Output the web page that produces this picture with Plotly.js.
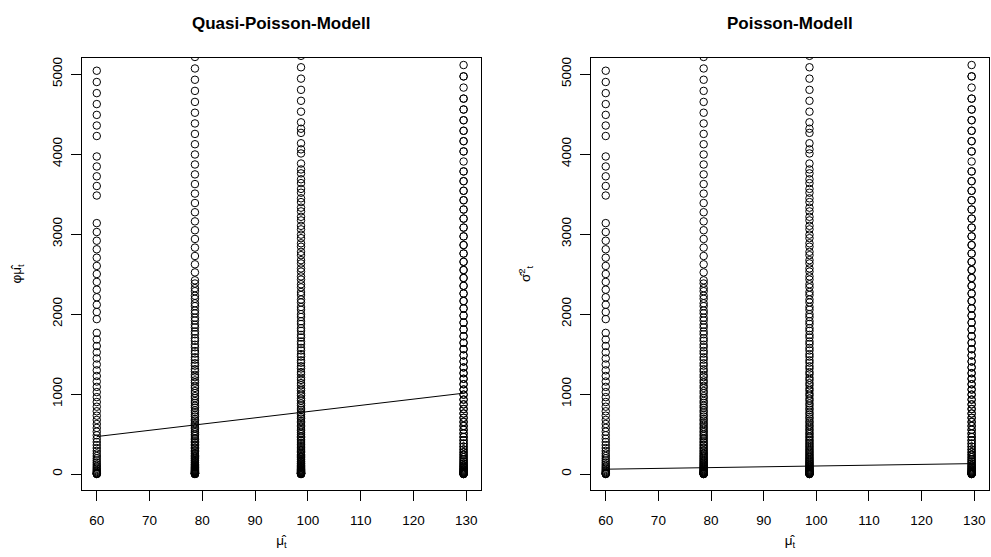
<!DOCTYPE html>
<html>
<head>
<meta charset="utf-8">
<script src="https://cdn.plot.ly/plotly-3.0.1.min.js"></script>
<style>html,body{margin:0;padding:0;background:#fff;}#chart{width:991px;height:557px;}</style>
</head>
<body>
<div id="chart"></div>
<script>
// fitted means (x positions of the four columns)
const muHat = [60, 78.6, 98.7, 129.5];
// squared deviations, one array per column
const dev60 = [0,1,4,9,16,25,36,49,64,81,100,121,144,169,196,225,256,289,324,361,400,441,484,529,576,625,676,729,784,841,900,961,1024,1089,1156,1225,1296,1369,1444,1521,1600,1681,1764,
  1936,2025,2116,2209,2304,2401,2500,2601,2704,2809,2916,3025,3136,
  3481,3600,3721,3844,3969,
  4225,4356,4489,4624,4761,4900,5041];
const dev79Up = [0,1,5,10,18,27,38,52,67,85,104,125,149,174,202,231,262,296,331,369,408,449,493,538,586,635,686,740,795,853,912,973,1037,1102,1170,1239,1310,1384,1459,1537,1616,1697,1781,1866,1954,2043,2134,2228,2323,2421,2520,2621,2725,2830,2938,3047,3158,3272,3387,3505,3624,3745,3869,3994,4122,4251,4382,4516,4651,4789,4928,5069,5213];
const dev79Low = [1,3,8,14,23,34,46,61,77,96,117,139,164,190,219,250,282,317,353,392,433,475,520,566,615,666,718,773,829,888,949,1011,1076,1142,1211,1282,1354,1429,1505,1584,1665,1747,1832,1918,2007,2098,2190,2285,2381];
const dev99Up = [0,2,5,11,18,28,40,53,69,86,106,128,151,177,204,234,266,299,335,372,412,454,497,543,590,640,692,745,801,858,918,980,1043,1109,1176,1246,1318,1391,1467,1544,1624,1706,1789,1875,1962,2052,2144,2237,2333,2430,2530,2632,2735,2841,2948,3058,3170,3283,3399,3516,3636,3758,3881,4007,4134,4264,4396,4529,4665,4802,4942,5084,5227];
const dev99Low = [0,3,7,14,22,32,45,59,76,94,114,137,161,188,216,246,279,313,350,388,428,471,515,562,610,660,713,767,824,882,942,1005,1069,1136,1204,1274,1347,1421,1498,1576,1656,1739,1823,1910,1998,2088,2181,2275,2372,2470,2570,2673,2777,2884,2992,3102,3215,3329,3446,3564,3684,3807,4058,4316];
const dev130Up = [0.25,2.25,6.25,12.25,20.25,30.25,42.25,56.25,72.25,90.25,110.25,132.25,156.25,182.25,210.25,240.25,272.25,306.25,342.25,380.25,420.25,462.25,506.25,552.25,600.25,650.25,702.25,756.25,812.25,870.25,930.25,992.25,1056.25,1122.25,1190.25,1260.25,1332.25,1406.25,1482.25,1560.25,1640.25,1722.25,1806.25,1892.25,1980.25,2070.25,2162.25,2256.25,2352.25,2450.25,2550.25,2652.25,2756.25,2862.25,2970.25,3080.25,3192.25,3306.25,3422.25,3540.25,3660.25,3782.25,3906.25,4032.25,4160.25,4290.25,4422.25,4556.25,4692.25,4830.25,4970.25,5112.25];
const dev130Low = [0,2,6,12,20,30,42,56,72,90,110,132,156,182,210,240,272,306,342,380,420,462,506,552,600,650,702,756,812,870,930,992,1056,1122,1190,1260,1332,1406,1482,1560,1640,1722,1806,1892,1980,2070,2162,2256,2352,2450,2550,2652,2756,2862,2970,3080,3192,3306,3422,3540,3660,3782,4032,4160,4290,4422,4556,4692,4970];
// model variance lines
const quasiLine = [468, 613, 770, 1010];
const poissonLine = [60, 78.6, 98.7, 129.5];
// tick labels
const xTicks = [60, 70, 80, 90, 100, 110, 120, 130];
const yTicks = [0, 1000, 2000, 3000, 4000, 5000];
const titles = ['Quasi-Poisson-Modell', 'Poisson-Modell'];

const columns = [[dev60], [dev79Up, dev79Low], [dev99Up, dev99Low], [dev130Up, dev130Low]];
const FONT = 'Liberation Sans, Arial, Helvetica, sans-serif';

function pointTraces(xa, ya) {
  const xs = [], ys = [];
  columns.forEach((arrs, i) => {
    arrs.forEach(a => { a.forEach(v => { xs.push(muHat[i]); ys.push(v); }); });
  });
  return {
    x: xs, y: ys, xaxis: xa, yaxis: ya, type: 'scatter', mode: 'markers',
    marker: {symbol: 'circle-open', size: 7.5, color: '#000', line: {width: 1, color: '#000'}},
    hoverinfo: 'x+y', showlegend: false
  };
}

const traces = [
  pointTraces('x', 'y'),
  {x: muHat, y: quasiLine, xaxis: 'x', yaxis: 'y', type: 'scatter', mode: 'lines',
   line: {color: '#000', width: 1}, showlegend: false},
  pointTraces('x2', 'y2'),
  {x: muHat, y: poissonLine, xaxis: 'x2', yaxis: 'y2', type: 'scatter', mode: 'lines',
   line: {color: '#000', width: 1}, showlegend: false}
];

const W = 991, H = 557;
function xaxisDef(d0, d1, anchor) {
  return {
    domain: [d0 / W, d1 / W], anchor: anchor, range: [57.2, 132.8],
    tickmode: 'array', tickvals: xTicks, ticktext: xTicks.map(String),
    ticks: 'outside', ticklen: 10, tickwidth: 1, tickcolor: '#000',
    ticklabelstandoff: 8,
    showline: true, mirror: true, linecolor: '#000', linewidth: 1,
    showgrid: false, zeroline: false,
    tickfont: {family: FONT, size: 13.5, color: '#000'},
    title: {text: 'μ̂<sub>t</sub>', font: {family: FONT, size: 13.5, color: '#000'}, standoff: 8},
    automargin: false
  };
}
function yaxisDef(anchor, titleText) {
  return {
    domain: [(H - 490) / H, (H - 58) / H], anchor: anchor, range: [-200, 5200],
    tickmode: 'array', tickvals: yTicks, ticktext: yTicks.map(String),
    ticks: 'outside', ticklen: 10, tickwidth: 1, tickcolor: '#000', tickangle: -90,
    ticklabelstandoff: 4,
    showline: true, mirror: true, linecolor: '#000', linewidth: 1,
    showgrid: false, zeroline: false,
    tickfont: {family: FONT, size: 13.5, color: '#000'},
    title: {text: titleText, font: {family: FONT, size: 13.5, color: '#000'}, standoff: 24},
    automargin: false
  };
}

const layout = {
  width: W, height: H,
  margin: {l: 0, r: 0, t: 0, b: 0},
  paper_bgcolor: '#fff', plot_bgcolor: '#fff',
  showlegend: false,
  xaxis: xaxisDef(82, 481, 'y'),
  yaxis: yaxisDef('x', 'φμ̂<sub>t</sub>'),
  xaxis2: xaxisDef(591, 989, 'y2'),
  yaxis2: yaxisDef('x2', 'σ̂<sup>2</sup><sub>t</sub>'),
  annotations: [
    {text: '<b>' + titles[0] + '</b>', xref: 'paper', yref: 'paper', x: 281.5 / W, y: 1 - 24 / H,
     xanchor: 'center', yanchor: 'middle', showarrow: false, font: {family: FONT, size: 17, color: '#000'}},
    {text: '<b>' + titles[1] + '</b>', xref: 'paper', yref: 'paper', x: 790 / W, y: 1 - 24 / H,
     xanchor: 'center', yanchor: 'middle', showarrow: false, font: {family: FONT, size: 17, color: '#000'}}
  ]
};

Plotly.newPlot('chart', traces, layout, {staticPlot: true, displayModeBar: false});
</script>
</body>
</html>
